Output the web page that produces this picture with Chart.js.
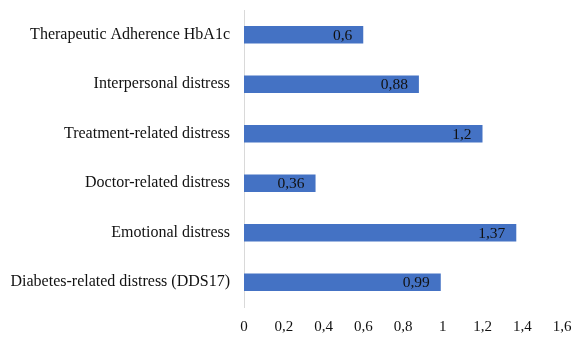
<!DOCTYPE html>
<html>
<head>
<meta charset="utf-8">
<script src="https://cdn.jsdelivr.net/npm/chart.js@4/dist/chart.umd.min.js"></script>
<style>
  html, body { margin: 0; padding: 0; background: #fff; }
  #wrap { width: 585px; height: 337px; position: relative; }
</style>
</head>
<body>
<div id="wrap"><canvas id="c"></canvas></div>
<script>
// Categories, top to bottom
const categories = [
  'Therapeutic Adherence HbA1c',
  'Interpersonal distress',
  'Treatment-related distress',
  'Doctor-related distress',
  'Emotional distress',
  'Diabetes-related distress (DDS17)'
];
// Mean values per category
const values = [0.6, 0.88, 1.2, 0.36, 1.37, 0.99];
// X-axis tick values
const xTicks = [0, 0.2, 0.4, 0.6, 0.8, 1, 1.2, 1.4, 1.6];

const SERIF = '"Liberation Serif", "Times New Roman", serif';
const fmt = v => String(v).replace('.', ',');

// Writes each bar's value just inside its end
const valueLabels = {
  id: 'valueLabels',
  afterDatasetsDraw(chart) {
    const ctx = chart.ctx;
    const meta = chart.getDatasetMeta(0);
    ctx.save();
    ctx.font = '15.5px ' + SERIF;
    ctx.fillStyle = '#111';
    ctx.textAlign = 'right';
    ctx.textBaseline = 'middle';
    meta.data.forEach((bar, i) => {
      ctx.fillText(fmt(values[i]), bar.x - 11, bar.y + 1);
    });
    ctx.restore();
  }
};

new Chart(document.getElementById('c'), {
  type: 'bar',
  data: {
    labels: categories,
    datasets: [{
      data: values,
      backgroundColor: '#4472C4',
      borderWidth: 0,
      barPercentage: 0.355,
      categoryPercentage: 1
    }]
  },
  options: {
    indexAxis: 'y',
    responsive: true,
    maintainAspectRatio: false,
    animation: false,
    layout: { padding: { top: 10, right: 23, bottom: 0, left: 0 } },
    plugins: { legend: { display: false }, tooltip: { enabled: false } },
    scales: {
      x: {
        min: 0, max: 1.6,
        afterBuildTicks(scale) { scale.ticks = xTicks.map(v => ({ value: v })); },
        afterFit(scale) {
          scale.height = 30;
          scale.paddingLeft = 0;
          scale.paddingRight = 0;
        },
        grid: { display: false, drawTicks: false },
        border: { display: false },
        ticks: {
          padding: 11,
          color: '#111',
          font: { family: SERIF, size: 15 },
          callback: v => fmt(Math.round(v * 10) / 10)
        }
      },
      y: {
        afterFit(scale) {
          scale.width = 244;
          scale.paddingTop = 0;
          scale.paddingBottom = 0;
        },
        grid: { display: false, drawTicks: false },
        border: { display: true, color: '#d9d9d9', width: 1 },
        ticks: {
          padding: 14,
          color: '#111',
          font: { family: SERIF, size: 16 }
        }
      }
    }
  },
  plugins: [valueLabels]
});
</script>
</body>
</html>
